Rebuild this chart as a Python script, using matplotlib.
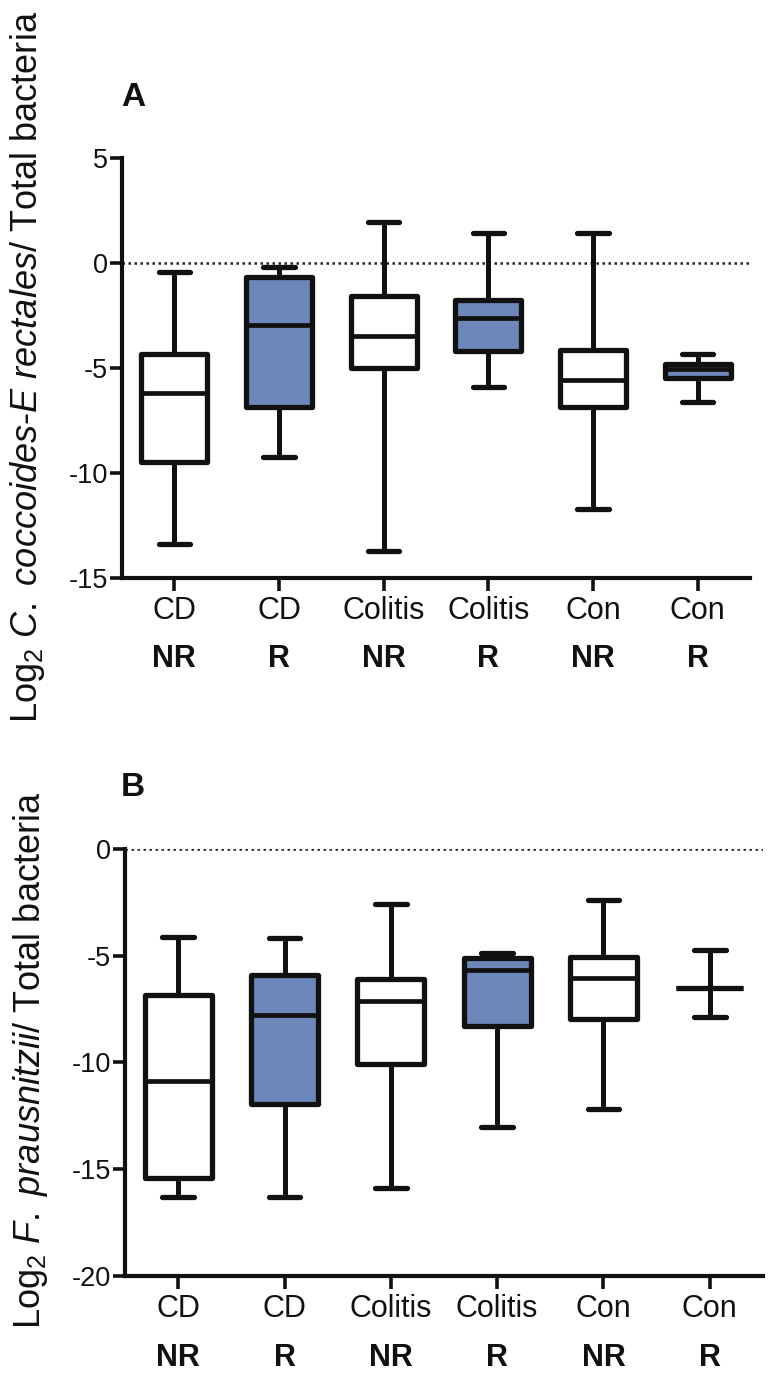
import matplotlib
matplotlib.use("Agg")
import matplotlib.pyplot as plt

plt.rcParams['font.family'] = ['Liberation Sans', 'DejaVu Sans']
plt.rcParams['mathtext.fontset'] = 'custom'
plt.rcParams['mathtext.rm'] = 'Liberation Sans'
plt.rcParams['mathtext.it'] = 'Liberation Sans:italic'
plt.rcParams['mathtext.bf'] = 'Liberation Sans:bold'
plt.rcParams['axes.unicode_minus'] = False

# categories
cats = ['CD', 'CD', 'Colitis', 'Colitis', 'Con', 'Con']
groups = ['NR', 'R', 'NR', 'R', 'NR', 'R']
fills = ['white', '#6E87BA', 'white', '#6E87BA', 'white', '#6E87BA']

# panel A: C. coccoides-E rectales
A_whislo = [-13.4, -9.25, -13.7, -5.9, -11.7, -6.6]
A_q1 = [-9.5, -6.85, -5.0, -4.2, -6.85, -5.5]
A_med = [-6.2, -2.95, -3.5, -2.6, -5.55, -5.05]
A_q3 = [-4.35, -0.65, -1.55, -1.75, -4.15, -4.8]
A_whishi = [-0.45, -0.2, 1.95, 1.45, 1.45, -4.35]

# panel B: F. prausnitzii
B_whislo = [-16.3, -16.3, -15.9, -13.0, -12.2, -7.85]
B_q1 = [-15.4, -11.95, -10.05, -8.3, -7.95, -6.5]
B_med = [-10.85, -7.8, -7.1, -5.65, -6.05, -6.5]
B_q3 = [-6.85, -5.9, -6.1, -5.1, -5.05, -6.5]
B_whishi = [-4.1, -4.15, -2.6, -4.85, -2.4, -4.75]

ink = '#111111'


def draw_panel(ax, lo, q1, med, q3, hi, yticks):
    stats = []
    for i in range(len(cats)):
        stats.append(dict(whislo=lo[i], q1=q1[i], med=med[i], q3=q3[i], whishi=hi[i]))
    pos = list(range(len(cats)))
    ax.axhline(0, color='#222222', lw=1.8, ls=(0, (1, 1.4)), zorder=1)
    bp = ax.bxp(stats, positions=pos, widths=0.63, capwidths=0.3,
                showfliers=False, patch_artist=True,
                boxprops=dict(lw=3.8, edgecolor=ink, joinstyle='round'),
                whiskerprops=dict(lw=3.6, color=ink),
                capprops=dict(lw=3.8, color=ink, solid_capstyle='round'),
                medianprops=dict(lw=3.4, color=ink), manage_ticks=False)
    for b, c in zip(bp['boxes'], fills):
        b.set_facecolor(c)
        b.set_zorder(2)
    ax.set_xlim(-0.5, 5.5)
    ax.set_ylim(yticks[0], yticks[-1])
    ax.set_yticks(yticks)
    ax.set_yticklabels([str(t) for t in yticks])
    ax.set_xticks(pos)
    ax.set_xticklabels(cats)
    for s in ['top', 'right']:
        ax.spines[s].set_visible(False)
    for s in ['left', 'bottom']:
        ax.spines[s].set_linewidth(3)
        ax.spines[s].set_color(ink)
    ax.tick_params(axis='y', length=9, width=2.6, pad=1, labelsize=19.5, colors=ink)
    ax.tick_params(axis='x', length=9, width=2.6, pad=4, labelsize=22, colors=ink)
    for i, g in enumerate(groups):
        ax.text(i, -0.192, g, transform=ax.get_xaxis_transform(), ha='center',
                va='center', fontsize=22, fontweight='bold', color=ink)


fig = plt.figure(figsize=(7.75, 13.8), dpi=100)
axA = fig.add_axes([0.1574, 0.5812, 0.8103, 0.3043])
axB = fig.add_axes([0.1613, 0.0754, 0.8232, 0.3094])

draw_panel(axA, A_whislo, A_q1, A_med, A_q3, A_whishi, [-15, -10, -5, 0, 5])
draw_panel(axB, B_whislo, B_q1, B_med, B_q3, B_whishi, [-20, -15, -10, -5, 0])

fig.text(0.035, 0.7344, r'Log$_2$ $\mathit{C.\ coccoides}$-$\mathit{E\ rectales/}$ Total bacteria',
         rotation=90, ha='center', va='center', fontsize=26, color=ink)
fig.text(0.039, 0.2319, r'Log$_2$ $\mathit{F.\ prausnitzii/}$ Total bacteria',
         rotation=90, ha='center', va='center', fontsize=26, color=ink)

fig.text(133 / 775, 1 - 98 / 1380, 'A', ha='center', va='center', fontsize=24,
         fontweight='bold', color=ink)
fig.text(133 / 775, 1 - 787 / 1380, 'B', ha='center', va='center', fontsize=24,
         fontweight='bold', color=ink)

fig.savefig('out.png', dpi=100)
